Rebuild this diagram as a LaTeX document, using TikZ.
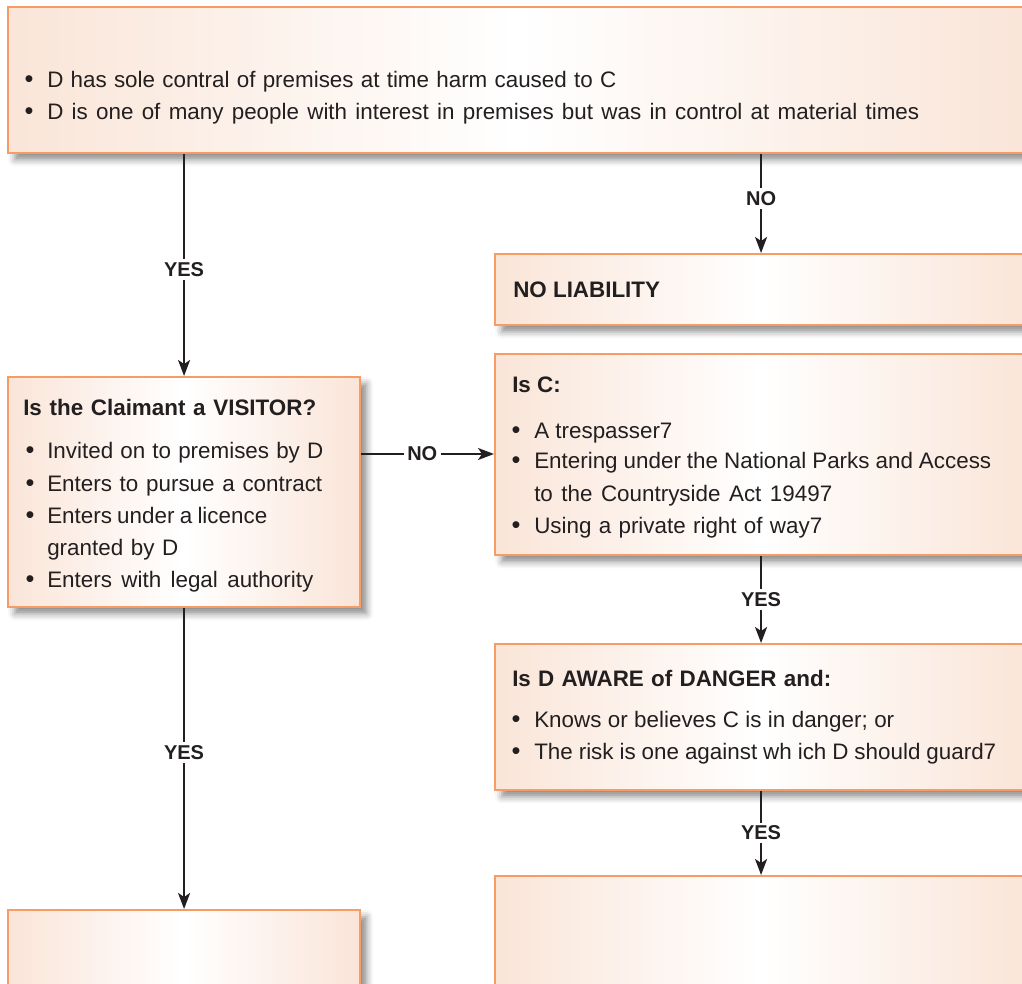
\documentclass[tikz,border=0pt]{standalone}
\usepackage{fontspec}
\setmainfont{Liberation Sans}
\usetikzlibrary{arrows.meta,shadows.blur}

\definecolor{boxedge}{HTML}{F89C66}
\definecolor{peach}{HTML}{FAE5D8}
\definecolor{ink}{HTML}{231F20}

\tikzset{
  box/.style={draw=boxedge, line width=1.6pt, left color=peach, right color=peach,
    middle color=white, anchor=north west, inner sep=0pt,
    blur shadow={shadow xshift=5pt, shadow yshift=-5pt, shadow blur radius=5pt, shadow opacity=45}},
  txt/.style={anchor=base west, inner sep=0pt, text=ink, font=\fontsize{16.8}{20}\selectfont},
  ttl/.style={txt, font=\fontsize{16.8}{20}\selectfont\bfseries},
  dot/.style={anchor=base, inner sep=0pt, text=ink, font=\fontsize{19}{20}\selectfont},
  arr/.style={draw=ink, line width=1.5pt, -{Stealth[length=12pt, width=9pt, inset=3pt]}},
  lbl/.style={fill=white, inner sep=2.5pt, text=ink, font=\fontsize{15}{18}\selectfont\bfseries},
}

% a line of text spread to a given width in pixels
\newcommand{\spread}[2]{\makebox[\dimexpr #1pt*3/4\relax][s]{#2}}

% box from (x1,y1) to (x2,y2), in pixel units, y downward
\newcommand{\pbox}[5]{%
  \node[box, minimum width={(#4-#2)*0.75pt}, minimum height={(#5-#3)*0.75pt}] (#1) at (#2,#3) {};}

\begin{document}
\begin{tikzpicture}[x=0.75pt, y=-0.75pt]
\useasboundingbox (0,0) rectangle (1022,984);

% boxes
\pbox{control}{7}{6}{1026}{152}
\pbox{noliab}{494}{253}{1026}{324}
\pbox{visitor}{7}{376}{359}{606}
\pbox{isc}{494}{353}{1026}{554}
\pbox{aware}{494}{643}{1026}{789}
\pbox{leftend}{7}{909}{359}{1000}
\pbox{rightend}{494}{875}{1026}{1000}

% control box text
\node[dot] (c1b) at (29,88) {•};
\node[txt] (c1) at (47,88) {\spread{569}{D has sole contral of premises at time harm caused to C}};
\node[dot] (c2b) at (29,120) {•};
\node[txt] (c2) at (47,120) {\spread{872}{D is one of many people with interest in premises but was in control at material times}};

% no liability
\node[ttl] (nl) at (513,298) {NO LIABILITY};

% visitor box
\node[ttl] (vt) at (23,416) {\spread{293}{Is the Claimant a VISITOR?}};
\node[dot] (v1b) at (30,459) {•};
\node[txt] (v1) at (47,459) {\spread{276}{Invited on to premises by D}};
\node[dot] (v2b) at (30,491) {•};
\node[txt] (v2) at (47,491) {\spread{275}{Enters to pursue a contract}};
\node[dot] (v3b) at (30,523) {•};
\node[txt] (v3) at (47,523) {\spread{220}{Enters under a licence}};
\node[txt] (v3c) at (47,555) {\spread{131}{granted by D}};
\node[dot] (v4b) at (30,587) {•};
\node[txt] (v4) at (47,587) {\spread{266}{Enters with legal authority}};

% is C box
\node[ttl] (ct) at (512,393) {Is C:};
\node[dot] (i1b) at (516,439) {•};
\node[txt] (i1) at (534,439) {A trespasser7};
\node[dot] (i2b) at (516,469) {•};
\node[txt] (i2) at (534,469) {\spread{457}{Entering under the National Parks and Access}};
\node[txt] (i2c) at (534,501) {\spread{298}{to the Countryside Act 19497}};
\node[dot] (i3b) at (516,533) {•};
\node[txt] (i3) at (534,533) {\spread{288}{Using a private right of way7}};

% aware box
\node[ttl] (at) at (512,686) {\spread{319}{Is D AWARE of DANGER and:}};
\node[dot] (a1b) at (516,727) {•};
\node[txt] (a1) at (534,727) {\spread{360}{Knows or believes C is in danger; or}};
\node[dot] (a2b) at (516,759) {•};
\node[txt] (a2) at (534,759) {\spread{462}{The risk is one against wh ich D should guard7}};

% connectors
\draw[arr] (control.south -| visitor.north) -- node[lbl, pos=0.52] {YES} (visitor.north);
\draw[arr] (control.south -| noliab.north) -- node[lbl, pos=0.45] {NO} (noliab.north);
\coordinate (vno) at (visitor.east |- 0,454);
\draw[arr] (vno) -- node[lbl, pos=0.46] {NO} (vno -| isc.west);
\draw[arr] (isc.south) -- node[lbl] {YES} (aware.north);
\draw[arr] (aware.south) -- node[lbl] {YES} (rightend.north);
\draw[arr] (visitor.south) -- node[lbl, pos=0.48] {YES} (leftend.north);
\end{tikzpicture}
\end{document}
